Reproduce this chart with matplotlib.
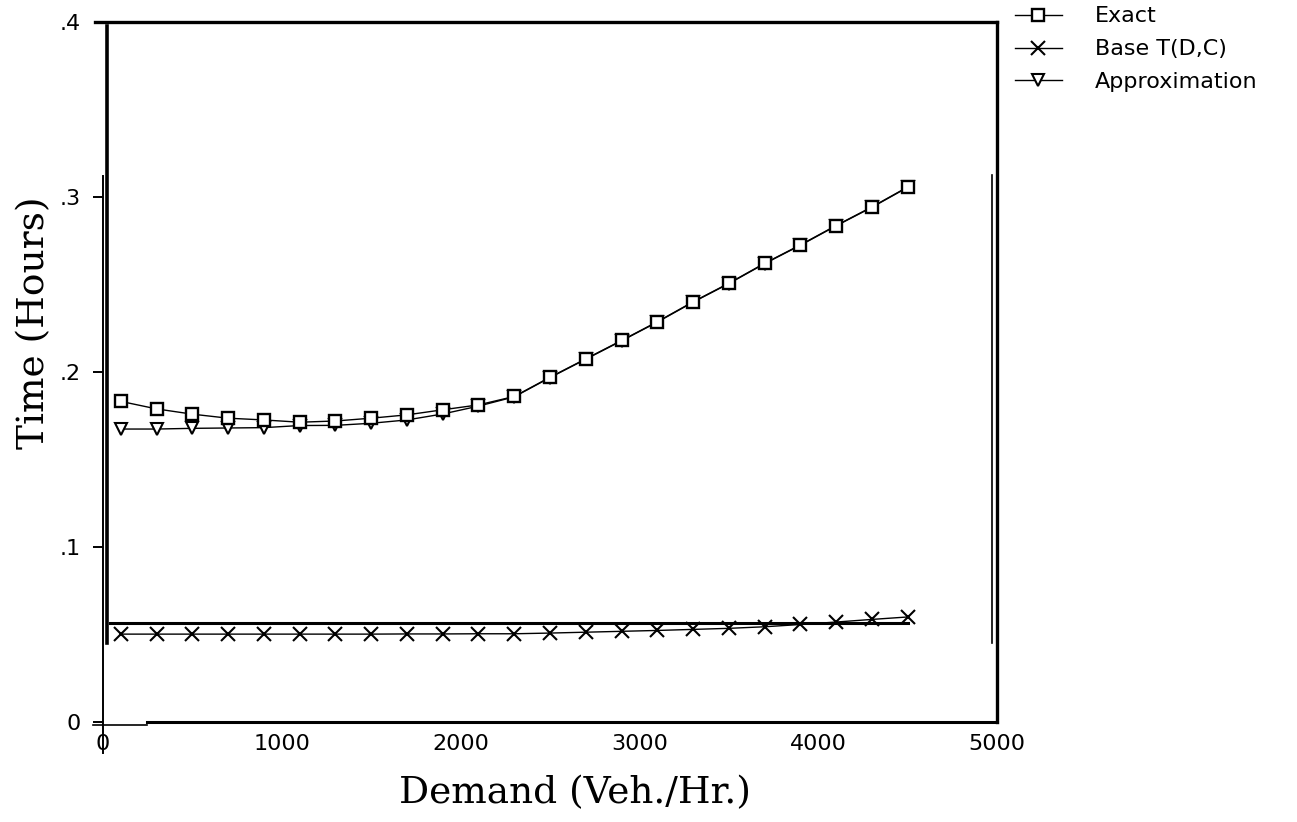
import matplotlib
matplotlib.use("Agg")
import matplotlib.pyplot as plt

# demand in veh/hr
demand = [100, 300, 500, 700, 900, 1100, 1300, 1500, 1700, 1900, 2100, 2300,
          2500, 2700, 2900, 3100, 3300, 3500, 3700, 3900, 4100, 4300, 4500]

# time in hours
exact = [0.1832, 0.1789, 0.1759, 0.1736, 0.1726, 0.1713, 0.1720, 0.1736,
         0.1755, 0.1784, 0.1812, 0.1860, 0.1970, 0.2075, 0.2180, 0.2287,
         0.2401, 0.2507, 0.2621, 0.2726, 0.2837, 0.2943, 0.3057]
base = [0.0502, 0.0502, 0.0502, 0.0502, 0.0502, 0.0502, 0.0502, 0.0502,
        0.0503, 0.0503, 0.0504, 0.0504, 0.0508, 0.0513, 0.0518, 0.0523,
        0.0529, 0.0535, 0.0544, 0.0557, 0.0571, 0.0586, 0.0600]
approx = [0.1674, 0.1674, 0.1678, 0.1680, 0.1682, 0.1694, 0.1695, 0.1707,
          0.1726, 0.1760, 0.1805, 0.1858, 0.1968, 0.2073, 0.2178, 0.2285,
          0.2399, 0.2505, 0.2619, 0.2724, 0.2835, 0.2941, 0.3055]

ref_level = 0.0563

fig = plt.figure(figsize=(12.97, 8.22), dpi=100)
ax = fig.add_axes([0.0794, 0.1217, 0.6893, 0.8515])

ax.plot(demand, base, color="black", lw=1.0, marker="x", ms=10, mew=1.5,
        label="Base T(D,C)")
ax.plot(demand, approx, color="black", lw=1.0, marker="v", ms=9, mew=1.5,
        mfc="white", label="Approximation")
ax.plot(demand, exact, color="black", lw=1.0, marker="s", ms=9, mew=1.7,
        mfc="white", label="Exact")

# frame, as in the scanned original
ax.plot([40, 4500], [ref_level, ref_level], color="black", lw=2.2)
ax.plot([-45, 5000], [0.4, 0.4], color="black", lw=2.4, clip_on=False)
ax.plot([22, 22], [0.0454, 0.398], color="black", lw=2.6, clip_on=False)
ax.plot([4972, 4972], [0.0454, 0.3126], color="black", lw=1.2, clip_on=False)
ax.plot([-55, 246], [-0.002, -0.002], color="black", lw=1.2, clip_on=False)
ax.plot([246, 5000], [0, 0], color="black", lw=2.2, clip_on=False)

ax.set_xlim(0, 5000)
ax.set_ylim(0, 0.4)
for s in ["top", "bottom"]:
    ax.spines[s].set_visible(False)
ax.spines["right"].set_linewidth(2.4)
ax.spines["left"].set_linewidth(1.4)
ax.spines["left"].set_bounds(-0.018, 0.312)

ax.set_xticks([0, 1000, 2000, 3000, 4000, 5000])
ax.set_xticklabels(["0", "1000", "2000", "3000", "4000", "5000"])
ax.set_xticks([5000], minor=True)
ax.tick_params(axis="x", which="major", length=0, pad=9, labelsize=16)
ax.tick_params(axis="x", which="minor", length=6, width=2.2, direction="out")

ax.set_yticks([0, 0.1, 0.2, 0.3, 0.4])
ax.set_yticklabels(["0", ".1", ".2", ".3", ".4"])
ax.tick_params(axis="y", which="major", length=7, width=1.4, pad=9,
               labelsize=16)
ax.yaxis.get_major_ticks()[-1].tick1line.set_visible(False)

ax.set_xlabel("Demand (Veh./Hr.)", family="DejaVu Serif", fontsize=27)
ax.xaxis.set_label_coords(0.528, -0.076)
ax.set_ylabel("Time (Hours)", family="DejaVu Serif", fontsize=27)
ax.yaxis.set_label_coords(-0.057, 0.571)

h, l = ax.get_legend_handles_labels()
fig.legend([h[2], h[0], h[1]], [l[2], l[0], l[1]], loc="upper left",
           bbox_to_anchor=(0.7757, 1.003), frameon=False, fontsize=16,
           borderpad=0.4, borderaxespad=0.0,
           handlelength=2.1, handletextpad=1.5, labelspacing=0.58)

fig.savefig("out.png", dpi=100)
